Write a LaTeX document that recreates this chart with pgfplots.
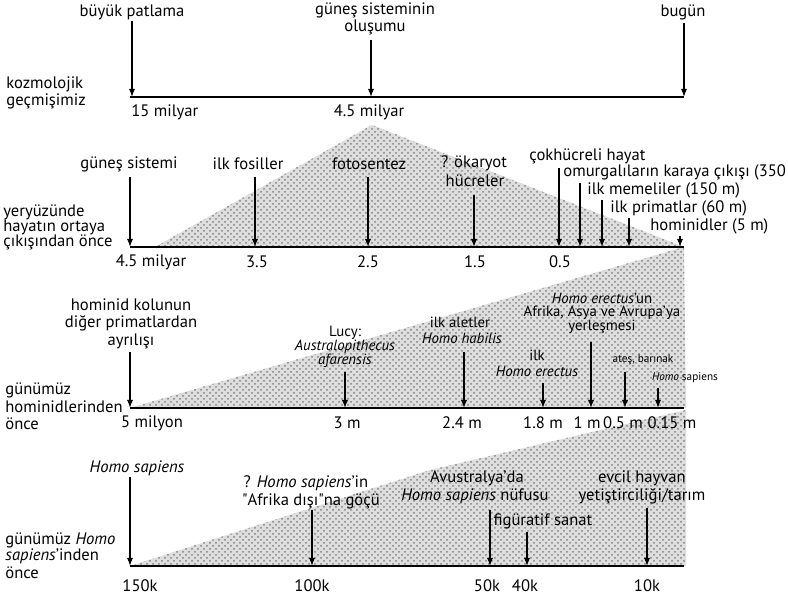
\documentclass[border=0pt]{standalone}
\usepackage{pgfplots}
\pgfplotsset{compat=1.18}
\usepackage{fontspec}
\setmainfont{PT Sans}
\usetikzlibrary{arrows.meta,patterns}
\newcommand\fa{\fontsize{8.3}{10}\selectfont}
\newcommand\fb{\fontsize{7.4}{9}\selectfont}
\newcommand\fc{\fontsize{5.6}{7}\selectfont}
\tikzset{
  arr/.style={-{Latex[length=4pt,width=3pt]}, line width=0.55pt, black},
  tarr/.style={-{Latex[length=4pt,width=3.2pt]}, line width=0.95pt, black},
  tl/.style={line width=1.25pt, black},
  sh/.style={fill=black!13, draw=none},
  pt/.style={pattern=crosshatch dots, pattern color=black!50, draw=none},
  lb/.style={font=\fa, inner sep=0pt, text=black},
  lbs/.style={font=\fb, inner sep=0pt, text=black},
  lbt/.style={font=\fc, inner sep=0pt, text=black},
}
\begin{document}
\begin{tikzpicture}
\begin{axis}[scale only axis, width=394pt, height=298.5pt,
  xmin=0, xmax=788, ymin=0, ymax=597, y dir=reverse,
  axis lines=none, clip=false,
]
% ---------- shaded cones ----------
\addplot[sh] coordinates {(372,125) (155,247) (684,247)} -- cycle;
\addplot[pt] coordinates {(372,125) (155,247) (684,247)} -- cycle;
\addplot[sh] coordinates {(684,247) (130,408) (686,408)} -- cycle;
\addplot[pt] coordinates {(684,247) (130,408) (686,408)} -- cycle;
\addplot[sh] coordinates {(686,410) (430,470) (130,566) (686,566)} -- cycle;
\addplot[pt] coordinates {(686,410) (430,470) (130,566) (686,566)} -- cycle;

% ---------- panel 1 ----------
\addplot[tl] coordinates {(130,97) (684,97)};
\addplot[arr] coordinates {(132,21) (132,97)};
\addplot[arr] coordinates {(371,40) (371,97)};
\addplot[arr] coordinates {(684,23) (684,97)};
\node[lb] at (132,12) {büyük patlama};
\node[lb] at (375,10) {güneş sisteminin};
\node[lb] at (375,27) {oluşumu};
\node[lb] at (683,12) {bugün};
\node[lb, anchor=west] at (131,112) {15 milyar};
\node[lb] at (369,112) {4.5 milyar};
\node[lb, anchor=west] at (6,84) {kozmolojik};
\node[lb, anchor=west] at (6,101) {geçmişimiz};

% ---------- panel 2 ----------
\addplot[tl] coordinates {(130,247) (684,247)};
\addplot[arr] coordinates {(130,177) (130,247)};
\addplot[tarr] coordinates {(255,177) (255,247)};
\addplot[tarr] coordinates {(368,177) (368,247)};
\addplot[tarr] coordinates {(474,195) (474,247)};
\addplot[arr] coordinates {(559,168) (559,247)};
\addplot[tarr] coordinates {(580,183) (580,247)};
\addplot[tarr] coordinates {(602,200) (602,247)};
\addplot[tarr] coordinates {(629,218) (629,247)};
\addplot[arr] coordinates {(680,236) (680,247)};
\node[lb] at (129,164) {güneş sistemi};
\node[lb] at (248,164) {ilk fosiller};
\node[lb] at (369,164) {fotosentez};
\node[lb] at (474,163) {? ökaryot};
\node[lb] at (475,181) {hücreler};
\node[lb, anchor=west] at (529,156) {çokhücreli hayat};
\node[lb, anchor=west] at (563,172) {omurgalıların karaya çıkışı (350};
\node[lb, anchor=west] at (587,190) {ilk memeliler (150 m)};
\node[lb, anchor=west] at (610,208) {ilk primatlar (60 m)};
\node[lb, anchor=west] at (650,226) {hominidler (5 m)};
\node[lb] at (151,262) {4.5 milyar};
\node[lb] at (257,262) {3.5};
\node[lb] at (368,262) {2.5};
\node[lb] at (475,262) {1.5};
\node[lb] at (560,262) {0.5};
\node[lb, anchor=west] at (3,212) {yeryüzünde};
\node[lb, anchor=west] at (3,227) {hayatın ortaya};
\node[lb, anchor=west] at (3,242) {çıkışından önce};

% ---------- panel 3 ----------
\addplot[tl] coordinates {(130,408) (684,408)};
\addplot[arr] coordinates {(130,352) (130,408)};
\addplot[tarr] coordinates {(345,372) (345,408)};
\addplot[tarr] coordinates {(464,352) (464,408)};
\addplot[arr] coordinates {(543,383) (543,408)};
\addplot[tarr] coordinates {(591,342) (591,408)};
\addplot[tarr] coordinates {(625,372) (625,408)};
\addplot[arr] coordinates {(658,388) (658,408)};
\node[lb] at (131,305) {hominid kolunun};
\node[lb] at (131,323) {diğer primatlardan};
\node[lb] at (131,341) {ayrılışı};
\node[lbs] at (345,333) {Lucy:};
\node[lbs] at (345,347) {\itshape Australopithecus};
\node[lbs] at (345,361) {\itshape afarensis};
\node[lbs] at (460,322) {ilk aletler};
\node[lbs] at (462,338) {\itshape Homo habilis};
\node[lbs] at (537,355) {ilk};
\node[lbs] at (537,371) {\itshape Homo erectus};
\node[lbs] at (602,298) {\textit{Homo erectus}'un};
\node[lbs] at (602,313) {Afrika, Asya ve Avrupa'ya};
\node[lbs] at (602,327) {yerleşmesi};
\node[lbt] at (643,360) {ateş, barınak};
\node[lbt] at (685,378) {\textit{Homo} sapiens};
\node[lb] at (152,423) {5 milyon};
\node[lb] at (347,423) {3 m};
\node[lb] at (462,423) {2.4 m};
\node[lb] at (543,423) {1.8 m};
\node[lb] at (587,423) {1 m};
\node[lb] at (623,423) {0.5 m};
\node[lb] at (672,423) {0.15 m};
\node[lb, anchor=west] at (5,390) {günümüz};
\node[lb, anchor=west] at (5,407) {hominidlerinden};
\node[lb, anchor=west] at (5,424) {önce};

% ---------- panel 4 ----------
\addplot[tl] coordinates {(130,566) (684,566)};
\addplot[arr] coordinates {(130,477) (130,566)};
\addplot[arr] coordinates {(312,510) (312,566)};
\addplot[arr] coordinates {(490,510) (490,566)};
\addplot[arr] coordinates {(527,532) (527,566)};
\addplot[arr] coordinates {(647,508) (647,566)};
\node[lb] at (137,468) {\itshape Homo sapiens};
\node[lb] at (306,483) {? \textit{Homo sapiens}'in};
\node[lb] at (311,501) {\textquotedbl Afrika dışı\textquotedbl na göçü};
\node[lb] at (477,478) {Avustralya'da};
\node[lb] at (475,496) {\textit{Homo sapiens} nüfusu};
\node[lb] at (543,521) {figüratif sanat};
\node[lb] at (642,478) {evcil hayvan};
\node[lb] at (642,496) {yetiştirciliği/tarım};
\node[lb] at (140,586) {150k};
\node[lb] at (312,586) {100k};
\node[lb] at (487,586) {50k};
\node[lb] at (525,586) {40k};
\node[lb] at (647,586) {10k};
\node[lb, anchor=west] at (5,540) {günümüz \textit{Homo}};
\node[lb, anchor=west] at (5,556) {\textit{sapiens}'inden};
\node[lb, anchor=west] at (5,573) {önce};
\end{axis}
\pgfresetboundingbox
\useasboundingbox (current axis.south west) rectangle (current axis.north east);
\end{tikzpicture}
\end{document}
